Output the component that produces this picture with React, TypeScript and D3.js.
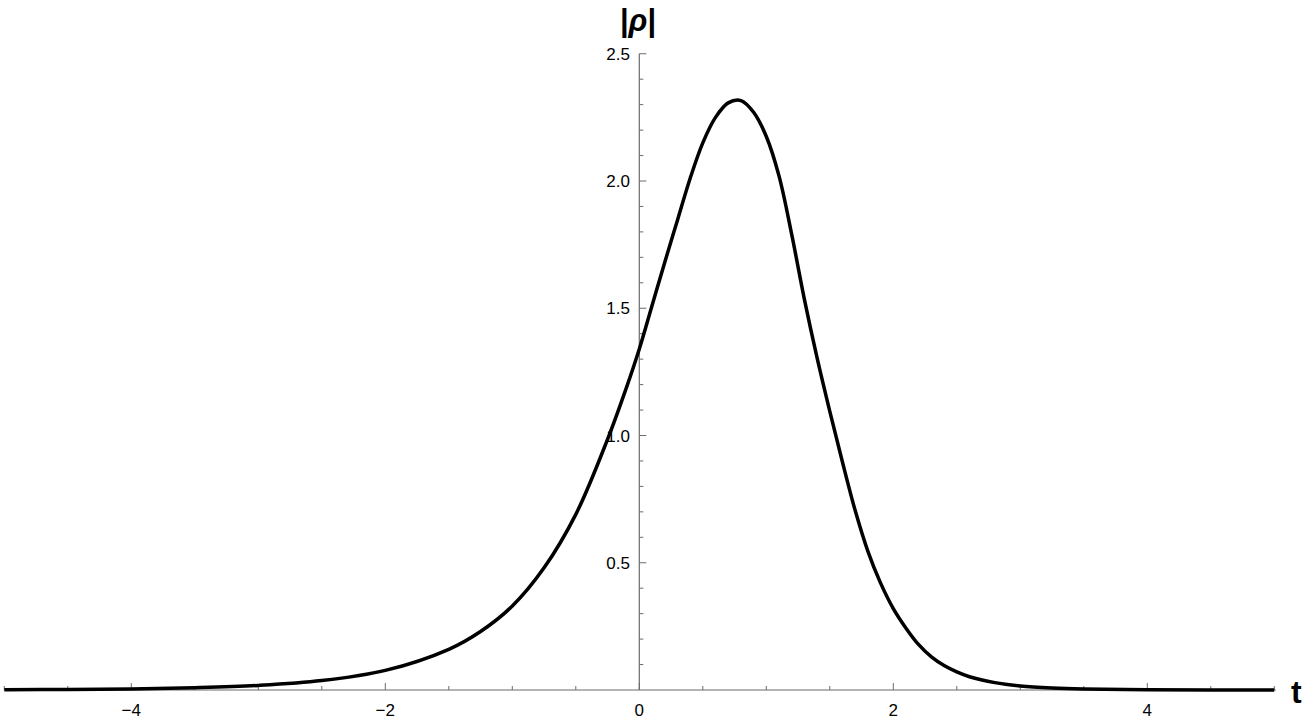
import React from "react";
import * as d3 from "d3";

const tValues = [-5, -4.5, -4, -3.5, -3, -2.5, -2, -1.5, -1.25, -1.0, -0.75, -0.5, -0.25, -0.1, 0, 0.1, 0.2, 0.3, 0.4, 0.5, 0.6, 0.7, 0.8, 0.9, 1.0, 1.1, 1.2, 1.3, 1.4, 1.5, 1.6, 1.7, 1.8, 1.9, 2.0, 2.1, 2.2, 2.3, 2.4, 2.5, 2.6, 2.8, 3.0, 3.25, 3.5, 4, 4.5, 5];
const rhoValues = [0.001, 0.002, 0.0043, 0.009, 0.018, 0.037, 0.077, 0.16, 0.23, 0.33, 0.48, 0.69, 0.985, 1.19, 1.34, 1.51, 1.68, 1.845, 2.01, 2.15, 2.25, 2.307, 2.316, 2.27, 2.175, 2.02, 1.79, 1.535, 1.305, 1.095, 0.895, 0.705, 0.545, 0.42, 0.32, 0.243, 0.178, 0.13, 0.096, 0.071, 0.052, 0.029, 0.016, 0.008, 0.004, 0.001, 0.0003, 0.0001];

const xMajorTicks = [-4, -2, 0, 2, 4];
const xMinorTicks = [-5, -4.5, -3.5, -3, -2.5, -1.5, -1, -0.5, 0.5, 1, 1.5, 2.5, 3, 3.5, 4.5, 5];
const yMajorTicks = [0.5, 1.0, 1.5, 2.0, 2.5];
const yMinorTicks = [0.1, 0.2, 0.3, 0.4, 0.6, 0.7, 0.8, 0.9, 1.1, 1.2, 1.3, 1.4, 1.6, 1.7, 1.8, 1.9, 2.1, 2.2, 2.3, 2.4];

const fmtX = (v: number) => (v < 0 ? "\u2212" + Math.abs(v) : String(v));
const fmtY = (v: number) => v.toFixed(1);

export default function App() {
  const x = d3.scaleLinear().domain([-5, 5]).range([4.3, 1274.3]);
  const y = d3.scaleLinear().domain([0, 2.5]).range([690, 53.75]);
  const data = tValues.map((t, i) => [t, rhoValues[i]] as [number, number]);
  const line = d3
    .line<[number, number]>()
    .x((d) => x(d[0]))
    .y((d) => y(d[1]))
    .curve(d3.curveCatmullRom.alpha(0.5));
  const axisColor = "#6b6b6b";
  const font = "'Liberation Sans', Arial, sans-serif";
  const x0 = x(0);
  const y0 = y(0);
  return (
    <svg
      width={1306}
      height={726}
      style={{ position: "absolute", left: 0, top: 0, background: "#fff" }}
    >
      <line x1={x(-5)} x2={x(5) + 1.5} y1={y0} y2={y0} stroke={axisColor} strokeWidth={1.2} />
      <line x1={x0} x2={x0} y1={y(2.5)} y2={y0} stroke={axisColor} strokeWidth={1.2} />
      {xMajorTicks.map((v) => (
        <g key={"xM" + v}>
          <line x1={x(v)} x2={x(v)} y1={y0} y2={y0 - 7} stroke={axisColor} strokeWidth={1} />
          <text x={x(v)} y={716} textAnchor="middle" fontFamily={font} fontSize={17} fill="#000">
            {fmtX(v)}
          </text>
        </g>
      ))}
      {xMinorTicks.map((v) => (
        <line key={"xm" + v} x1={x(v)} x2={x(v)} y1={y0} y2={y0 - 4} stroke={axisColor} strokeWidth={1} />
      ))}
      {yMajorTicks.map((v) => (
        <g key={"yM" + v}>
          <line x1={x0} x2={x0 + 7} y1={y(v)} y2={y(v)} stroke={axisColor} strokeWidth={1} />
          <text x={630} y={y(v)} dy="0.36em" textAnchor="end" fontFamily={font} fontSize={17} fill="#000">
            {fmtY(v)}
          </text>
        </g>
      ))}
      {yMinorTicks.map((v) => (
        <line key={"ym" + v} x1={x0} x2={x0 + 4} y1={y(v)} y2={y(v)} stroke={axisColor} strokeWidth={1} />
      ))}
      <path d={line(data) || ""} fill="none" stroke="#000" strokeWidth={3.5} strokeLinejoin="round" />
      <text x={638} y={31} textAnchor="middle" fontFamily={font} fontSize={31} fontWeight="bold" fill="#000">
        |<tspan fontStyle="italic">ρ</tspan>|
      </text>
      <text x={1291} y={703} fontFamily={font} fontSize={32} fontWeight="bold" fill="#000">
        t
      </text>
    </svg>
  );
}
